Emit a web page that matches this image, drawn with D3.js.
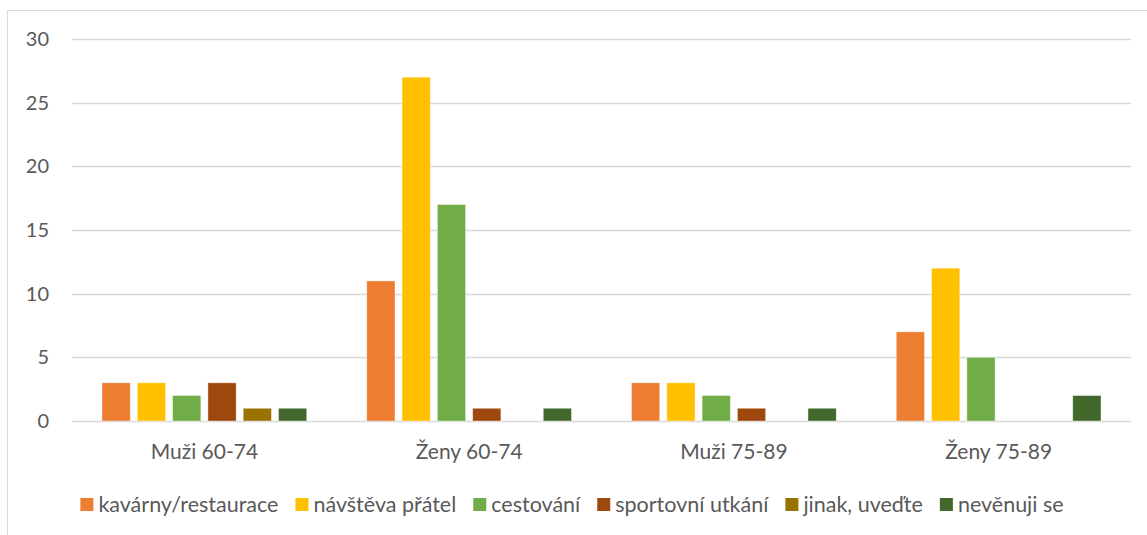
<!DOCTYPE html>
<html>
<head>
<meta charset="utf-8">
<script src="https://cdn.jsdelivr.net/npm/d3@7"></script>
<style>
  body { margin: 0; background: #fff; }
  text { font-family: Lato, "Open Sans", sans-serif; fill: #595959; }
</style>
</head>
<body>
<svg id="chart" width="1147" height="535"></svg>
<script>
var categories = ["Muži 60-74", "Ženy 60-74", "Muži 75-89", "Ženy 75-89"];
var series = ["kavárny/restaurace", "návštěva přátel", "cestování", "sportovní utkání", "jinak, uveďte", "nevěnuji se"];
var colors = ["#ED7D31", "#FFC000", "#70AD47", "#9E480E", "#997300", "#43682B"];
// values per series, in category order
var kavarny = [3, 11, 3, 7];
var navsteva = [3, 27, 3, 12];
var cestovani = [2, 17, 2, 5];
var sport = [3, 1, 1, 0];
var jinak = [1, 0, 0, 0];
var nevenuji = [1, 1, 1, 2];
var yTicks = [0, 5, 10, 15, 20, 25, 30];

var values = [kavarny, navsteva, cestovani, sport, jinak, nevenuji];

var svg = d3.select("#chart");

// chart frame
svg.append("rect")
  .attr("x", 7.5).attr("y", 10.5)
  .attr("width", 1160).attr("height", 560)
  .attr("fill", "none").attr("stroke", "#D9D9D9");

var plotLeft = 72, plotRight = 1131, plotTop = 39, plotBottom = 421;

var x0 = d3.scaleBand().domain(categories).range([plotLeft, plotRight]);
var x1 = d3.scaleBand().domain(series).range([0, x0.bandwidth()])
  .paddingInner(0.2).paddingOuter(0.85);
var y = d3.scaleLinear().domain([0, 30]).range([plotBottom, plotTop]);

// gridlines
svg.append("g").selectAll("line")
  .data(yTicks).enter().append("line")
  .attr("x1", plotLeft).attr("x2", plotRight)
  .attr("y1", function (d) { return Math.round(y(d)) + 0.5; })
  .attr("y2", function (d) { return Math.round(y(d)) + 0.5; })
  .attr("stroke", "#D9D9D9").attr("stroke-width", 1.3);

// y tick labels
svg.append("g").selectAll("text")
  .data(yTicks).enter().append("text")
  .attr("x", 49)
  .attr("y", function (d) { return y(d); })
  .attr("dy", "0.35em")
  .attr("text-anchor", "end")
  .style("font-size", "20px")
  .text(function (d) { return d; });

// bars
var group = svg.append("g").selectAll("g")
  .data(categories).enter().append("g")
  .attr("transform", function (d) { return "translate(" + x0(d) + ",0)"; });

group.selectAll("rect")
  .data(function (d, ci) {
    return series.map(function (s, si) { return { s: s, i: si, v: values[si][ci] }; })
      .filter(function (e) { return e.v > 0; });
  })
  .enter().append("rect")
  .attr("x", function (d) { return x1(d.s); })
  .attr("y", function (d) { return y(d.v); })
  .attr("width", x1.bandwidth())
  .attr("height", function (d) { return y(0) - y(d.v); })
  .attr("fill", function (d) { return colors[d.i]; })
  .attr("stroke", "#fff").attr("stroke-opacity", 0.5).attr("stroke-width", 0.8);

// category labels
svg.append("g").selectAll("text")
  .data(categories).enter().append("text")
  .attr("x", function (d) { return x0(d) + x0.bandwidth() / 2; })
  .attr("y", 459)
  .attr("text-anchor", "middle")
  .style("font-size", "21px")
  .text(function (d) { return d; });

// legend
var legend = svg.append("g");
var item = legend.selectAll("g")
  .data(series).enter().append("g");
item.append("rect")
  .attr("width", 13).attr("height", 13)
  .attr("y", 498)
  .attr("fill", function (d, i) { return colors[i]; });
item.append("text")
  .attr("x", 18).attr("y", 512)
  .style("font-size", "21.5px")
  .text(function (d) { return d; });

var pos = 0, SPACING = 17;
item.each(function () {
  var g = d3.select(this);
  var w = 18 + g.select("text").node().getComputedTextLength();
  g.attr("transform", "translate(" + pos + ",0)");
  pos += w + SPACING;
});
var total = pos - SPACING;
legend.attr("transform", "translate(" + (572 - total / 2) + ",0)");
</script>
</body>
</html>
